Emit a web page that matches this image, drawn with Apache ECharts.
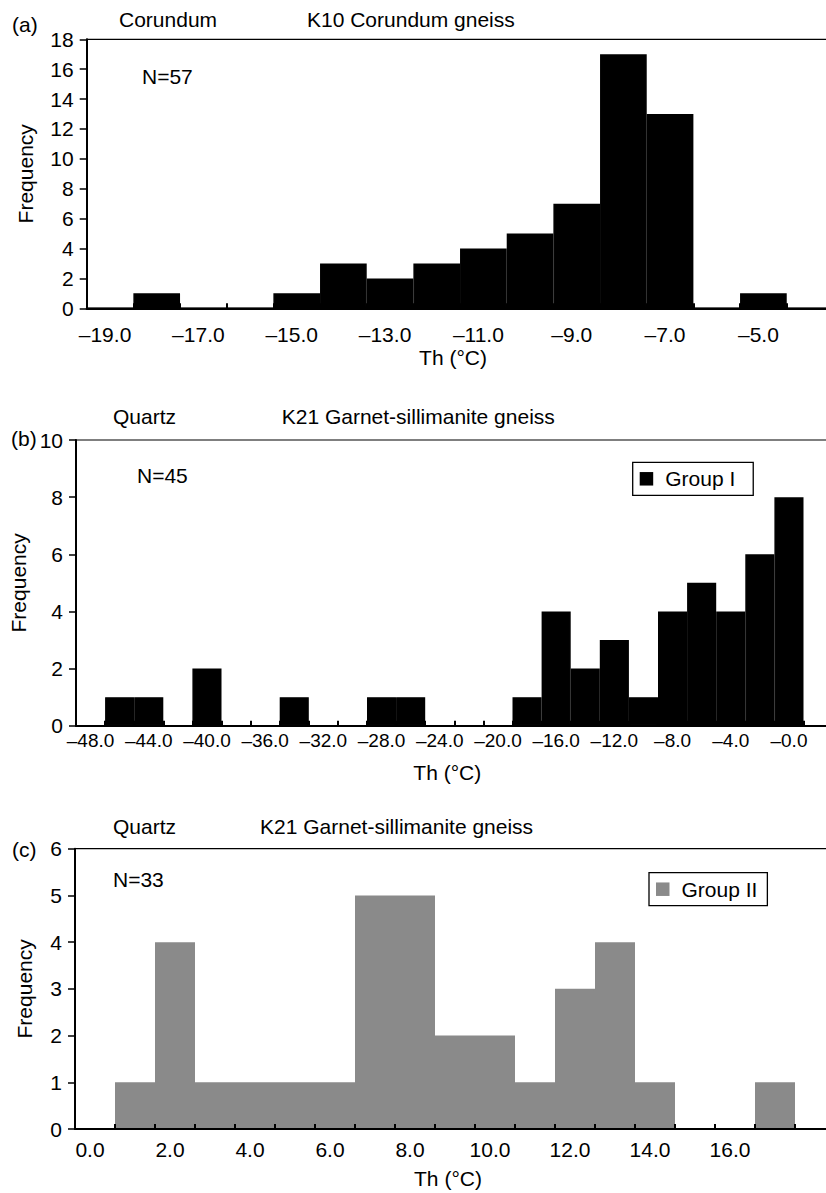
<!DOCTYPE html>
<html>
<head>
<meta charset="utf-8">
<script src="https://cdn.jsdelivr.net/npm/echarts@6/dist/echarts.min.js"></script>
<style>
  html, body { margin: 0; padding: 0; background: #fff; }
  #chart { width: 826px; height: 1193px; }
</style>
</head>
<body>
<div id="chart"></div>
<script>
// (a) Corundum, K10 corundum gneiss
const binsA = ['–19.0', '–18.0', '–17.0', '–16.0', '–15.0', '–14.0', '–13.0', '–12.0',
  '–11.0', '–10.0', '–9.0', '–8.0', '–7.0', '–6.0', '–5.0', '–4.0']
const freqA = [0, 1, 0, 0, 1, 3, 2, 3, 4, 5, 7, 17, 13, 0, 1, 0]

// (b) Quartz, K21 garnet-sillimanite gneiss, group I
const binsB = ['–48.0', '–46.0', '–44.0', '–42.0', '–40.0', '–38.0', '–36.0', '–34.0',
  '–32.0', '–30.0', '–28.0', '–26.0', '–24.0', '–22.0', '–20.0', '–18.0', '–16.0',
  '–14.0', '–12.0', '–10.0', '–8.0', '–6.0', '–4.0', '–2.0', '–0.0', '2.0']
const freqB = [0, 1, 1, 0, 2, 0, 0, 1, 0, 0, 1, 1, 0, 0, 0, 1, 4, 2, 3, 1, 4, 5, 4, 6, 8, 0]

// (c) Quartz, K21 garnet-sillimanite gneiss, group II
const binsC = ['0.0', '1.0', '2.0', '3.0', '4.0', '5.0', '6.0', '7.0', '8.0', '9.0',
  '10.0', '11.0', '12.0', '13.0', '14.0', '15.0', '16.0', '17.0', '18.0']
const freqC = [0, 1, 4, 1, 1, 1, 1, 5, 5, 2, 2, 1, 3, 4, 1, 0, 0, 1, 0]

const yMax = [18, 10, 6]
const yStep = [2, 2, 1]

const FONT = 'Liberation Sans, Arial, Helvetica, sans-serif'
const GREY = '#8a8a8a'

const chart = echarts.init(document.getElementById('chart'), null, { renderer: 'svg' })

const txt = (text, left, top) => ({
  text,
  left,
  top,
  padding: 0,
  textStyle: { fontFamily: FONT, fontSize: 21, fontWeight: 'normal', color: '#000' }
})

// plot areas run past the right edge of the page, as in the cropped original
const grids = [
  { left: 86.7, top: 39.3, width: 746.7, height: 269 },
  { left: 76, top: 440, width: 756.6, height: 285.7 },
  { left: 75, top: 848.7, width: 760, height: 280.3 }
].map(g => ({
  ...g,
  outerBoundsMode: 'none',
  containLabel: false,
  show: true,
  borderColor: '#000',
  borderWidth: 1.2,
  backgroundColor: 'transparent'
}))

const xAxis = (idx, data, opts) => ({
  type: 'category',
  gridIndex: idx,
  data,
  boundaryGap: true,
  z: 3,
  splitLine: { show: false },
  axisLine: { lineStyle: { color: '#000', width: 2 } },
  axisTick: { show: true, inside: true, length: 5, interval: 0, lineStyle: { color: '#000', width: 2 } },
  axisLabel: {
    interval: opts.interval,
    color: '#000',
    fontFamily: FONT,
    fontSize: opts.fontSize,
    margin: opts.margin,
    padding: opts.padding
  },
  name: 'Th (°C)',
  nameLocation: 'middle',
  nameGap: opts.nameGap,
  nameTextStyle: { color: '#000', fontFamily: FONT, fontSize: 21, padding: [0, 14, 0, 0] }
})

const yAxis = (idx, nameGap) => ({
  type: 'value',
  gridIndex: idx,
  min: 0,
  max: yMax[idx],
  interval: yStep[idx],
  axisLine: { show: true, lineStyle: { color: '#000', width: 2 } },
  axisTick: { show: true, inside: false, length: 7, lineStyle: { color: '#000', width: 1.5 } },
  splitLine: { show: false },
  axisLabel: { color: '#000', fontFamily: FONT, fontSize: 21, margin: 13 },
  name: 'Frequency',
  nameLocation: 'middle',
  nameRotate: 90,
  nameGap,
  nameTextStyle: { color: '#000', fontFamily: FONT, fontSize: 21 }
})

const legend = (name, left, top, padding) => ({
  data: [name],
  left,
  top,
  orient: 'horizontal',
  padding,
  borderColor: '#000',
  borderWidth: 1.3,
  icon: 'rect',
  itemWidth: 13.5,
  itemHeight: 13.5,
  selectedMode: false,
  itemStyle: { borderWidth: 0 },
  textStyle: { color: '#000', fontFamily: FONT, fontSize: 21, padding: [0, 0, 0, 7] }
})

// same-colour outline closes the hairline seams between adjacent bars
const barStyle = (color) => ({ color, borderColor: color, borderWidth: 1.5, opacity: 1 })

const option = {
  animation: false,
  backgroundColor: '#fff',
  title: [
    txt('(a)', 12, 13.5),
    txt('Corundum', 119, 8.5),
    txt('K10 Corundum gneiss', 307, 8.5),
    txt('N=57', 142, 65.7),
    txt('(b)', 11, 427.5),
    txt('Quartz', 113, 405.5),
    txt('K21 Garnet-sillimanite gneiss', 281.7, 405.5),
    txt('N=45', 137, 464.7),
    txt('(c)', 12, 838.5),
    txt('Quartz', 113, 815.5),
    txt('K21 Garnet-sillimanite gneiss', 260, 815.5),
    txt('N=33', 113, 869)
  ],
  legend: [
    legend('Group I', 632.7, 462.3, [6, 18, 6, 7]),
    legend('Group II', 649, 872.7, [6, 10, 6, 7])
  ],
  grid: grids,
  xAxis: [
    xAxis(0, binsA, { interval: 1, fontSize: 21, margin: 16, padding: [0, 10, 0, 0], nameGap: 39 }),
    xAxis(1, binsB, { interval: 1, fontSize: 19, margin: 5, padding: 0, nameGap: 36.5 }),
    xAxis(2, binsC, {
      interval: (i) => i % 2 === 0 && i < binsC.length - 1,
      fontSize: 21, margin: 10, padding: [0, 10, 0, 0], nameGap: 38.5
    })
  ],
  yAxis: [yAxis(0, 51), yAxis(1, 40.5), yAxis(2, 40.5)],
  series: [
    {
      name: 'Corundum', type: 'bar', xAxisIndex: 0, yAxisIndex: 0,
      barCategoryGap: 0, itemStyle: barStyle('#000'), data: freqA
    },
    {
      name: 'Group I', type: 'bar', xAxisIndex: 1, yAxisIndex: 1,
      barCategoryGap: 0, itemStyle: barStyle('#000'), data: freqB
    },
    {
      name: 'Group II', type: 'bar', xAxisIndex: 2, yAxisIndex: 2,
      barCategoryGap: 0, itemStyle: barStyle(GREY), data: freqC
    }
  ]
}

chart.setOption(option)
window.addEventListener('resize', () => {
  chart.resize()
})
</script>
</body>
</html>
